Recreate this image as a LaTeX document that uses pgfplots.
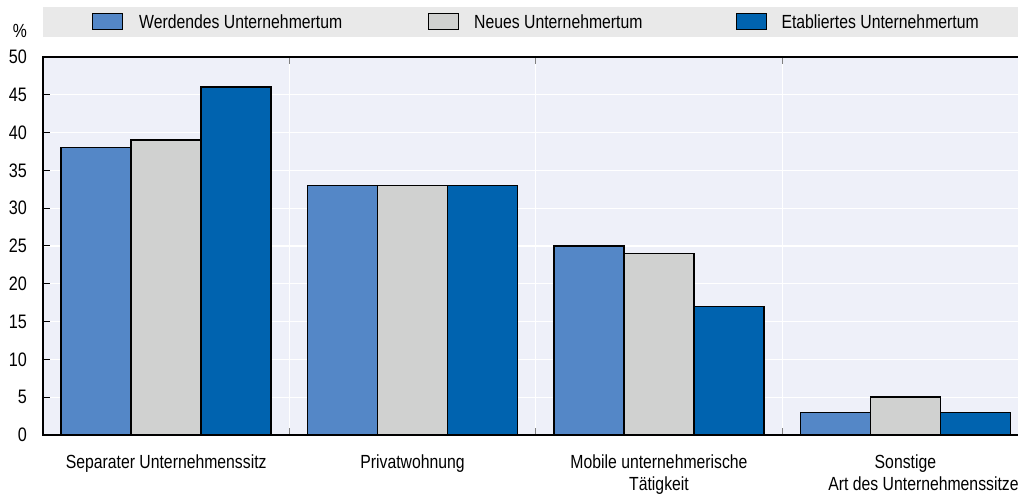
\documentclass[border=0pt]{standalone}
\usepackage{pgfplots}
\pgfplotsset{compat=1.18}
\usepackage{fontspec}
\setmainfont{Liberation Sans}[FakeStretch=0.83]
\definecolor{cA}{RGB}{84,135,199}
\definecolor{cB}{RGB}{208,209,208}
\definecolor{cC}{RGB}{0,99,175}
\definecolor{bgc}{RGB}{238,240,249}
\definecolor{band}{RGB}{233,233,233}
\begin{document}
\begin{tikzpicture}
\path[use as bounding box] (-43pt,-60pt) rectangle (975pt,435pt);
\clip (-43pt,-60pt) rectangle (975pt,435pt);
\fill[band] (0pt,398pt) rectangle (975pt,428pt);
\begin{axis}[
  scale only axis, width=985.6pt, height=378pt,
  xmin=-0.5, xmax=3.5, ymin=0, ymax=50,
  clip=false,
  ybar=0pt, bar width=70pt,
  axis background/.style={fill=bgc},
  axis line style={black, line width=1.5pt},
  ytick={0,5,...,50},
  xtick={0.5,1.5,2.5}, xticklabels={},
  extra x ticks={0,1,2,3},
  extra x tick labels={\strut Separater Unternehmenssitz, \strut Privatwohnung, {\strut Mobile unternehmerische\\Tätigkeit}, {\strut Sonstige\\\makebox[0pt][l]{\hspace*{-77pt}Art des Unternehmenssitzes}}},
  extra x tick style={grid=none, major tick length=0pt},
  tick align=inside, major tick length=7pt,
  xtick style={gray, line width=1pt},
  ytick style={black, line width=1pt},
  ymajorgrids, xmajorgrids,
  major grid style={white, line width=1.2pt},
  /pgf/number format/assume math mode=true,
  yticklabel style={font=\fontsize{19.5}{22}\selectfont, inner sep=0pt, xshift=-16pt},
  xticklabel style={font=\fontsize{19}{22}\selectfont, align=center, anchor=north, inner sep=0pt, yshift=-17.6pt},
  legend columns=3,
  legend style={at={(0.0497,1.0926)}, anchor=west, draw=none, fill=none, inner sep=0pt,
    font=\fontsize{19}{22}\selectfont,
    /tikz/column 1/.style={column sep=14pt},
    /tikz/column 2/.style={column sep=84pt},
    /tikz/column 3/.style={column sep=13pt},
    /tikz/column 4/.style={column sep=91pt},
    /tikz/column 5/.style={column sep=13pt}},
  legend image code/.code={\draw[#1, draw=black, line width=1pt] (0pt,-8pt) rectangle (30pt,8pt);},
]
\addplot[fill=cA, draw=black, line width=1.5pt] coordinates {(0,38) (1,33) (2,25) (3,3)};
\addplot[fill=cB, draw=black, line width=1.5pt] coordinates {(0,39) (1,33) (2,24) (3,5)};
\addplot[fill=cC, draw=black, line width=1.5pt] coordinates {(0,46) (1,33) (2,17) (3,3)};
\legend{Werdendes Unternehmertum, Neues Unternehmertum, Etabliertes Unternehmertum}
\node[anchor=base east, font=\fontsize{19}{22}\selectfont, inner sep=0pt] at (rel axis cs:0,1) [xshift=-16pt, yshift=19pt] {\%};
\end{axis}
\end{tikzpicture}
\end{document}
